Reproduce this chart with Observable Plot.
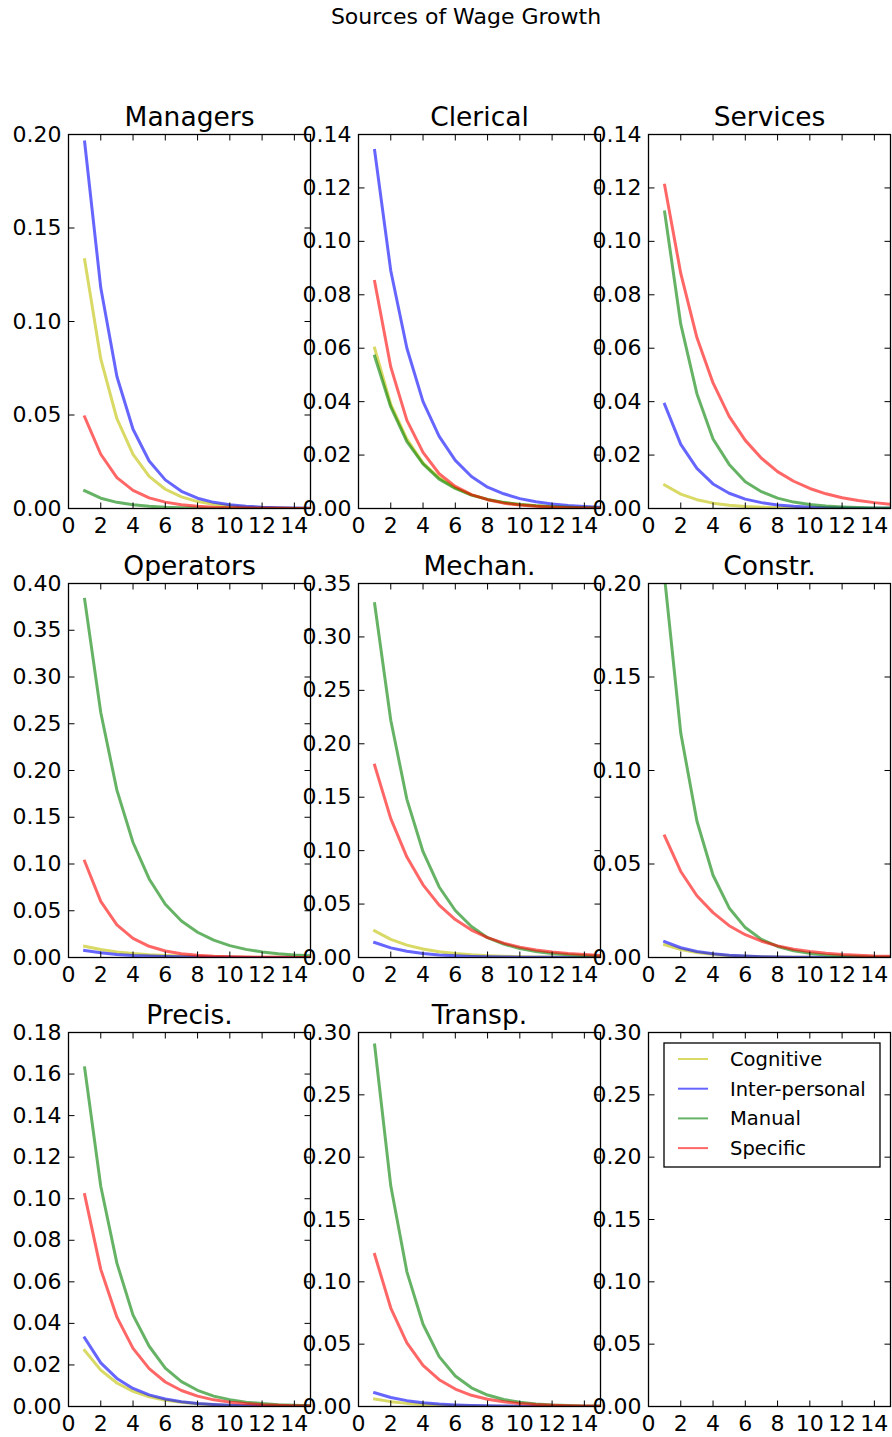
<!DOCTYPE html>
<html><head><meta charset="utf-8">
<script src="https://cdn.jsdelivr.net/npm/d3@7"></script>
<script src="https://cdn.jsdelivr.net/npm/@observablehq/plot@0.6"></script>
<style>
body{margin:0;background:#fff;}
#fig{position:relative;width:892px;height:1437px;font-family:"DejaVu Sans",sans-serif;overflow:hidden;}
#fig svg{position:absolute;}
#suptitle{position:absolute;left:0;width:932px;top:6px;text-align:center;font-size:22px;line-height:22px;color:#000;}
</style></head><body><div id="fig"><div id="suptitle">Sources of Wage Growth</div></div>
<script>
const seriesNames = ["Cognitive", "Inter-personal", "Manual", "Specific"];
const seriesColors = ["#bfbf00", "#0000ff", "#008000", "#ff0000"];
const years = [1, 2, 3, 4, 5, 6, 7, 8, 9, 10, 11, 12, 13, 14, 15];
const xTicks = [0, 2, 4, 6, 8, 10, 12, 14];
const panelTitles = ["Managers", "Clerical", "Services", "Operators", "Mechan.", "Constr.", "Precis.", "Transp.", ""];
const yMaxes = [0.20, 0.14, 0.14, 0.40, 0.35, 0.20, 0.18, 0.30, 0.30];
const yTicksList = [
  [0, 0.05, 0.10, 0.15, 0.20],
  [0, 0.02, 0.04, 0.06, 0.08, 0.10, 0.12, 0.14],
  [0, 0.02, 0.04, 0.06, 0.08, 0.10, 0.12, 0.14],
  [0, 0.05, 0.10, 0.15, 0.20, 0.25, 0.30, 0.35, 0.40],
  [0, 0.05, 0.10, 0.15, 0.20, 0.25, 0.30, 0.35],
  [0, 0.05, 0.10, 0.15, 0.20],
  [0, 0.02, 0.04, 0.06, 0.08, 0.10, 0.12, 0.14, 0.16, 0.18],
  [0, 0.05, 0.10, 0.15, 0.20, 0.25, 0.30],
  [0, 0.05, 0.10, 0.15, 0.20, 0.25, 0.30]
];

// each panel: [Cognitive, Inter-personal, Manual, Specific]
const managers = [
  [0.133, 0.080, 0.048, 0.029, 0.0172, 0.0103, 0.0062, 0.0037, 0.0022, 0.0013, 0.0008, 0.0005, 0.0003, 0.0002, 0.0001],
  [0.196, 0.118, 0.0706, 0.0424, 0.0254, 0.0153, 0.0092, 0.0055, 0.0033, 0.0020, 0.0012, 0.0007, 0.0004, 0.00026, 0.00016],
  [0.0095, 0.0055, 0.0033, 0.0020, 0.0012, 0.0007, 0.0004, 0.00025, 0.00015, 0.0001, 0.00006, 0.00004, 0.00002, 0.00001, 0.00001],
  [0.049, 0.029, 0.0165, 0.0097, 0.0057, 0.0034, 0.0020, 0.0012, 0.0007, 0.0004, 0.00025, 0.00015, 0.0001, 0.00005, 0.00003]
];
const clerical = [
  [0.060, 0.039, 0.026, 0.017, 0.0115, 0.0077, 0.0051, 0.0034, 0.0022, 0.0015, 0.0010, 0.00065, 0.00043, 0.0003, 0.0002],
  [0.134, 0.089, 0.060, 0.040, 0.027, 0.018, 0.012, 0.008, 0.0055, 0.0037, 0.0025, 0.0017, 0.0011, 0.00075, 0.0005],
  [0.057, 0.038, 0.025, 0.0167, 0.011, 0.0075, 0.0050, 0.0034, 0.0023, 0.0015, 0.0010, 0.0007, 0.00045, 0.0003, 0.0002],
  [0.085, 0.053, 0.033, 0.021, 0.013, 0.0083, 0.0052, 0.0033, 0.0020, 0.0013, 0.0008, 0.0005, 0.0003, 0.0002, 0.00013]
];
const services = [
  [0.0088, 0.0054, 0.0033, 0.0020, 0.0012, 0.00075, 0.00046, 0.00028, 0.00017, 0.0001, 0.00006, 0.00004, 0.00002, 0.00001, 0.00001],
  [0.039, 0.024, 0.015, 0.0092, 0.0057, 0.0035, 0.0022, 0.0013, 0.0008, 0.0005, 0.0003, 0.0002, 0.00012, 0.00008, 0.00005],
  [0.111, 0.069, 0.043, 0.026, 0.0165, 0.010, 0.0063, 0.0039, 0.0024, 0.0015, 0.0009, 0.0006, 0.00036, 0.00022, 0.00014],
  [0.121, 0.088, 0.064, 0.047, 0.0345, 0.0255, 0.0188, 0.0138, 0.0102, 0.0075, 0.0055, 0.0040, 0.0030, 0.0022, 0.0016]
];
const operators = [
  [0.012, 0.0085, 0.0060, 0.0043, 0.0030, 0.0021, 0.0015, 0.0011, 0.0008, 0.0005, 0.0004, 0.0003, 0.0002, 0.00014, 0.0001],
  [0.0075, 0.0050, 0.0033, 0.0022, 0.0015, 0.0010, 0.0007, 0.00045, 0.0003, 0.0002, 0.00013, 0.00009, 0.00006, 0.00004, 0.00003],
  [0.383, 0.262, 0.179, 0.123, 0.084, 0.057, 0.039, 0.027, 0.0185, 0.0127, 0.0087, 0.0060, 0.0041, 0.0028, 0.0019],
  [0.103, 0.060, 0.035, 0.0205, 0.012, 0.0070, 0.0041, 0.0024, 0.0014, 0.0008, 0.0005, 0.0003, 0.00017, 0.0001, 0.00006]
];
const mechan = [
  [0.025, 0.017, 0.0116, 0.0079, 0.0054, 0.0037, 0.0025, 0.0017, 0.0012, 0.0008, 0.00055, 0.00037, 0.00025, 0.00017, 0.00012],
  [0.014, 0.009, 0.0058, 0.0037, 0.0024, 0.0016, 0.0010, 0.00066, 0.00043, 0.00028, 0.00018, 0.00012, 0.00008, 0.00005, 0.00003],
  [0.331, 0.222, 0.148, 0.099, 0.066, 0.044, 0.029, 0.0185, 0.0125, 0.0084, 0.0056, 0.0037, 0.0025, 0.0017, 0.0011],
  [0.180, 0.130, 0.094, 0.068, 0.049, 0.0355, 0.0257, 0.0186, 0.0134, 0.0097, 0.0070, 0.0051, 0.0037, 0.0027, 0.0019]
];
const constr = [
  [0.0068, 0.0043, 0.0027, 0.0017, 0.0010, 0.00065, 0.0004, 0.00025, 0.00016, 0.0001, 0.00006, 0.00004, 0.00002, 0.00001, 0.00001],
  [0.0085, 0.0052, 0.0032, 0.0020, 0.0012, 0.00075, 0.00046, 0.00028, 0.00017, 0.0001, 0.00006, 0.00004, 0.00002, 0.00001, 0.00001],
  [0.203, 0.120, 0.073, 0.044, 0.0265, 0.016, 0.0097, 0.0059, 0.0036, 0.0022, 0.0013, 0.0008, 0.0005, 0.0003, 0.0002],
  [0.065, 0.046, 0.033, 0.024, 0.017, 0.0122, 0.0087, 0.0062, 0.0044, 0.0032, 0.0023, 0.0016, 0.0012, 0.0008, 0.0006]
];
const precis = [
  [0.027, 0.0175, 0.0113, 0.0073, 0.0047, 0.0030, 0.0020, 0.0013, 0.0008, 0.0005, 0.00034, 0.00022, 0.00014, 0.00009, 0.00006],
  [0.033, 0.021, 0.0135, 0.0087, 0.0056, 0.0036, 0.0023, 0.0015, 0.0010, 0.0006, 0.0004, 0.00026, 0.00017, 0.00011, 0.00007],
  [0.163, 0.106, 0.069, 0.044, 0.029, 0.0185, 0.012, 0.0078, 0.0050, 0.0033, 0.0021, 0.0014, 0.0009, 0.0006, 0.0004],
  [0.102, 0.066, 0.043, 0.028, 0.0182, 0.0118, 0.0077, 0.0050, 0.0032, 0.0021, 0.0014, 0.0009, 0.0006, 0.0004, 0.00025]
];
const transp = [
  [0.0060, 0.0039, 0.0025, 0.0016, 0.0010, 0.00065, 0.0004, 0.00026, 0.00017, 0.00011, 0.00007, 0.00005, 0.00003, 0.00002, 0.00001],
  [0.011, 0.0072, 0.0047, 0.0030, 0.0020, 0.0013, 0.00085, 0.00055, 0.00036, 0.00023, 0.00015, 0.0001, 0.00006, 0.00004, 0.00003],
  [0.290, 0.177, 0.108, 0.066, 0.040, 0.0245, 0.015, 0.0092, 0.0056, 0.0034, 0.0021, 0.0013, 0.0008, 0.0005, 0.0003],
  [0.122, 0.079, 0.051, 0.033, 0.0215, 0.014, 0.0090, 0.0058, 0.0038, 0.0025, 0.0016, 0.0010, 0.00067, 0.00043, 0.00028]
];
const panelData = [managers, clerical, services, operators, mechan, constr, precis, transp, null];

// layout
const colLefts = [68, 358, 648];
const rowTops = [134, 583, 1032];
const panelW = 242, panelH = 374;
const ML = 72, MR = 14, MT = 52, MB = 42;

const tickUp = {draw(c) { c.moveTo(0, 0); c.lineTo(0, -6); }};
const tickDown = {draw(c) { c.moveTo(0, 0); c.lineTo(0, 6); }};
const tickRight = {draw(c) { c.moveTo(0, 0); c.lineTo(6, 0); }};
const tickLeft = {draw(c) { c.moveTo(0, 0); c.lineTo(-6, 0); }};

const fig = document.getElementById("fig");

panelTitles.forEach((title, i) => {
  const col = i % 3, row = Math.floor(i / 3);
  const yTicks = yTicksList[i];
  const rows = [];
  const pd = panelData[i];
  if (pd) {
    seriesNames.forEach((s, k) => {
      years.forEach((yr, j) => rows.push({year: yr, value: pd[k][j], series: s}));
    });
  }
  const marks = [];
  if (rows.length) {
    marks.push(Plot.line(rows, {x: "year", y: "value", stroke: "series", z: "series",
      strokeWidth: 3, strokeOpacity: 0.6, strokeLinecap: "square", strokeLinejoin: "round", clip: true}));
  }
  marks.push(
    Plot.dot(xTicks, {x: d => d, frameAnchor: "bottom", symbol: tickUp, stroke: "black", fill: "none", r: 3, strokeWidth: 1}),
    Plot.dot(xTicks, {x: d => d, frameAnchor: "top", symbol: tickDown, stroke: "black", fill: "none", r: 3, strokeWidth: 1}),
    Plot.dot(yTicks, {y: d => d, frameAnchor: "left", symbol: tickRight, stroke: "black", fill: "none", r: 3, strokeWidth: 1}),
    Plot.dot(yTicks, {y: d => d, frameAnchor: "right", symbol: tickLeft, stroke: "black", fill: "none", r: 3, strokeWidth: 1}),
    Plot.frame({stroke: "black", strokeWidth: 1.3}),
    Plot.axisX({ticks: xTicks, tickSize: 0, tickPadding: 9, fontSize: 22, tickFormat: d => String(d), label: null}),
    Plot.axisY({ticks: yTicks, tickSize: 0, tickPadding: 7, fontSize: 22, tickFormat: d3.format(".2f"), label: null})
  );
  if (title) {
    marks.push(Plot.text([title], {text: d => d, frameAnchor: "top", dy: -9, lineAnchor: "bottom", fontSize: 26.5}));
  }
  const svg = Plot.plot({
    width: ML + panelW + MR,
    height: MT + panelH + MB,
    marginLeft: ML, marginRight: MR, marginTop: MT, marginBottom: MB,
    x: {domain: [0, 15], label: null},
    y: {domain: [0, yMaxes[i]], label: null},
    color: {domain: seriesNames, range: seriesColors},
    style: {background: "transparent", overflow: "visible", fontFamily: "DejaVu Sans", color: "black", maxWidth: "none"},
    marks
  });
  svg.style.left = (colLefts[col] - ML) + "px";
  svg.style.top = (rowTops[row] - MT) + "px";
  fig.appendChild(svg);
});

// legend inside the empty ninth panel
const lg = d3.select(fig).append("svg")
  .attr("width", 220).attr("height", 128)
  .style("left", "663px").style("top", "1042px")
  .style("font-family", "DejaVu Sans");
lg.append("rect").attr("x", 1).attr("y", 1).attr("width", 216).attr("height", 124)
  .attr("fill", "white").attr("stroke", "black").attr("stroke-width", 1.3);
seriesNames.forEach((s, k) => {
  const cy = 17 + k * 29.7;
  lg.append("line").attr("x1", 15).attr("x2", 45).attr("y1", cy).attr("y2", cy)
    .attr("stroke", seriesColors[k]).attr("stroke-opacity", 0.6).attr("stroke-width", 2);
  lg.append("text").attr("x", 67).attr("y", cy).attr("dy", "0.36em")
    .attr("font-size", 19.5).attr("fill", "black").text(s);
});
</script></body></html>
